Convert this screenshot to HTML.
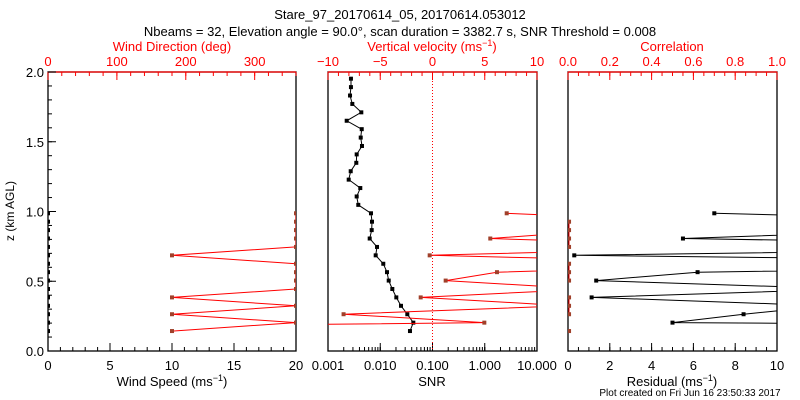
<!DOCTYPE html>
<html><head><meta charset="utf-8"><style>
body{margin:0;background:#fff}
svg{display:block;font-family:"Liberation Sans",sans-serif}
</style></head><body>
<svg id="c" width="800" height="400" viewBox="0 0 800 400"></svg>
<script>
// ---- data (index i = range gate, bottom to top) ----
const gateBase = 0.143, gateStep = 0.0603;
const snrValues = [0.03707,0.04295,0.03296,0.02495,0.02029,0.01702,0.01452,0.01346,0.01143,0.00818,0.00867,0.00628,0.00686,0.00695,0.00665,0.0038,0.00354,0.00415,0.00249,0.00272,0.00348,0.00354,0.00447,0.00423,0.00442,0.00228,0.00434,0.00292,0.00264,0.00275,0.00275];
const wVelocity = [-71,4.96,-8.51,12.8,-1.13,14.9,1.26,6.17,33,-0.27,30,5.53,16.5,26,7.1];
const windSpeed = [0,0,0,0,0,0,0,0,0,0,0,0,0,0,0];
const windDir = [180,360,180,360,180,360,360,360,360,180,360,360,360,360,360];
const residual = [75,5.0,8.4,12.5,1.13,13.6,1.35,6.2,35,0.3,30,5.5,17,23,7.0];
const correlation = [0.005,null,0.005,0.005,0.005,null,0.005,0.005,0.005,null,0.005,0.005,0.005,0.005,null];
const zTicks = ['0.0','0.5','1.0','1.5','2.0'];
const speedTicks = ['0','5','10','15','20'];
const dirTicks = ['0','100','200','300'];
const velTicks = ['\u221210','\u22125','0','5','10'];
const snrTicks = ['0.001','0.010','0.100','1.000','10.000'];
const corrTicks = ['0.0','0.2','0.4','0.6','0.8','1.0'];
const resTicks = ['0','2','4','6','8','10'];

const svg = document.getElementById('c');
const NS = 'http://www.w3.org/2000/svg';
function mk(tag, attrs, parent){const e=document.createElementNS(NS,tag);for(const k in attrs)e.setAttribute(k,attrs[k]);(parent||svg).appendChild(e);return e;}
const Y0=351, Y1=72;
const yS = z => Y0 - (z/2)*(Y0-Y1);
const gz = i => gateBase + gateStep*i;
const P1={l:48,r:296}, P2={l:328,r:537}, P3={l:568,r:777};
const lin=(p,a,b)=>v=>p.l+(v-a)/(b-a)*(p.r-p.l);
const xSpeed=lin(P1,0,20), xDir=lin(P1,0,360), xVel=lin(P2,-10,10), xCorr=lin(P3,0,1), xRes=lin(P3,0,10);
const xSnr=v=>P2.l+(Math.log10(v)+3)/4*(P2.r-P2.l);

function text(x,y,s,opt){const t=mk('text',Object.assign({x:x,y:y,'font-size':13,'text-anchor':'middle',fill:'#000'},opt||{}));t.textContent=s;return t;}

const defs=mk('defs',{});
[P1,P2,P3].forEach((p,k)=>{const cp=mk('clipPath',{id:'cp'+k},defs);mk('rect',{x:p.l,y:Y1,width:p.r-p.l,height:Y0-Y1},cp);});

let t;
t=text(400,19,'Stare_97_20170614_05, 20170614.053012');


t=text(400,36,'Nbeams = 32, Elevation angle = 90.0\u00B0, scan duration = 3382.7 s, SNR Threshold = 0.008');



[P1,P2,P3].forEach((p,k)=>{
  const r=mk('rect',{x:p.l,y:Y1,width:p.r-p.l,height:Y0-Y1,fill:'none',stroke:'#000','stroke-width':1.3});
  
  
  mk('line',{x1:p.l,y1:Y1,x2:p.r,y2:Y1,stroke:'#f00','stroke-width':1.3});
});

function ticks(p,scale,majors,minors,top,color,labels,labelY){
  const g=mk('g',{});
  minors.forEach(v=>{const x=scale(v);mk('line',top?{x1:x,y1:Y1,x2:x,y2:Y1+4}:{x1:x,y1:Y0,x2:x,y2:Y0-4},g).setAttribute('stroke',color);});
  majors.forEach((v,i)=>{const x=scale(v);mk('line',top?{x1:x,y1:Y1,x2:x,y2:Y1+8}:{x1:x,y1:Y0,x2:x,y2:Y0-8},g).setAttribute('stroke',color);
    if(labels[i]!==undefined){const tt=text(x,labelY,labels[i],{fill:color,'font-size':13});
      
      }});
  return g;
}
const rng=(a,b,s)=>{const o=[];for(let v=a;v<=b+1e-9;v+=s)o.push(+v.toFixed(4));return o;};
ticks(P1,xSpeed,[0,5,10,15,20],rng(0,20,1),false,'#000',speedTicks,370);
ticks(P1,xDir,[0,100,200,300],rng(0,360,20),true,'#f00',dirTicks,66);
zTicks.forEach((s,i)=>{const z=i*0.5,y=yS(z);mk('line',{x1:P1.l,y1:y,x2:P1.l+8,y2:y,stroke:'#000'});
  const tt=text(P1.l-4,y+5,s,{'text-anchor':'end'});
  
  });
rng(0,2,0.1).forEach(z=>mk('line',{x1:P1.l,y1:yS(z),x2:P1.l+4,y2:yS(z),stroke:'#000'}));
t=text(0,0,'z (km AGL)',{transform:'translate(14,211) rotate(-90)','font-size':12});


const snrMin=[];for(let d=-3;d<1;d++)for(let m=1;m<=10;m++)snrMin.push(m*Math.pow(10,d));
ticks(P2,xSnr,[0.001,0.01,0.1,1,10],snrMin,false,'#000',snrTicks,370);
ticks(P2,xVel,[-10,-5,0,5,10],rng(-10,10,1),true,'#f00',velTicks,66);
ticks(P3,xRes,[0,2,4,6,8,10],rng(0,10,0.5),false,'#000',resTicks,370);
ticks(P3,xCorr,[0,0.2,0.4,0.6,0.8,1],rng(0,1,0.05),true,'#f00',corrTicks,66);

function title(x,y,s,col,name,sup){const tt=text(x,y,s,{fill:col});if(sup){const ts=mk('tspan',{dy:-5,'font-size':9},tt);ts.textContent='\u22121';const t2=mk('tspan',{dy:5},tt);t2.textContent=')';}
  
  }
title(172,386,'Wind Speed (ms','#000','x-axis-title-speed',true);
title(172,51,'Wind Direction (deg)','#f00','x-axis-title-direction',false);
title(432,386,'SNR','#000','x-axis-title-snr',false);
title(432,51,'Vertical velocity (ms','#f00','x-axis-title-velocity',true);
title(672,386,'Residual (ms','#000','x-axis-title-residual',true);
title(672,51,'Correlation','#f00','x-axis-title-correlation',false);
t=text(690,396,'Plot created on Fri Jun 16 23:50:33 2017',{'font-size':10});



const zl=mk('line',{x1:xVel(0),y1:Y1,x2:xVel(0),y2:Y0,stroke:'#f00','stroke-dasharray':'1,2'});



function series(vals,xf,k,lineCol,markCol,name,drawLine){
  const g=mk('g',{'clip-path':'url(#cp'+k+')'});
  
  
  if(drawLine){let seg=[];const flush=()=>{if(seg.length>1)mk('polyline',{points:seg.join(' '),fill:'none',stroke:lineCol,'stroke-width':1},g);seg=[];};
    vals.forEach((v,i)=>{if(v===null){flush();return;}seg.push(xf(v).toFixed(1)+','+yS(gz(i)).toFixed(1));});flush();}
  vals.forEach((v,i)=>{if(v===null)return;const x=xf(v),y=yS(gz(i));
    const m=mk('rect',{x:x-2,y:y-2,width:4,height:4,fill:markCol},g);
    
    });
}
series(windSpeed,xSpeed,0,'#000','#000','wind-speed-series',true);
series(windDir,xDir,0,'#f00','#a0402a','wind-direction-series',true);
series(snrValues,xSnr,1,'#000','#000','snr-series',true);
series(wVelocity,xVel,1,'#f00','#a0402a','vertical-velocity-series',true);
series(residual,xRes,2,'#000','#000','residual-series',true);
series(correlation,xCorr,2,'#f00','#a0402a','correlation-series',true);
</script>
</body></html>
